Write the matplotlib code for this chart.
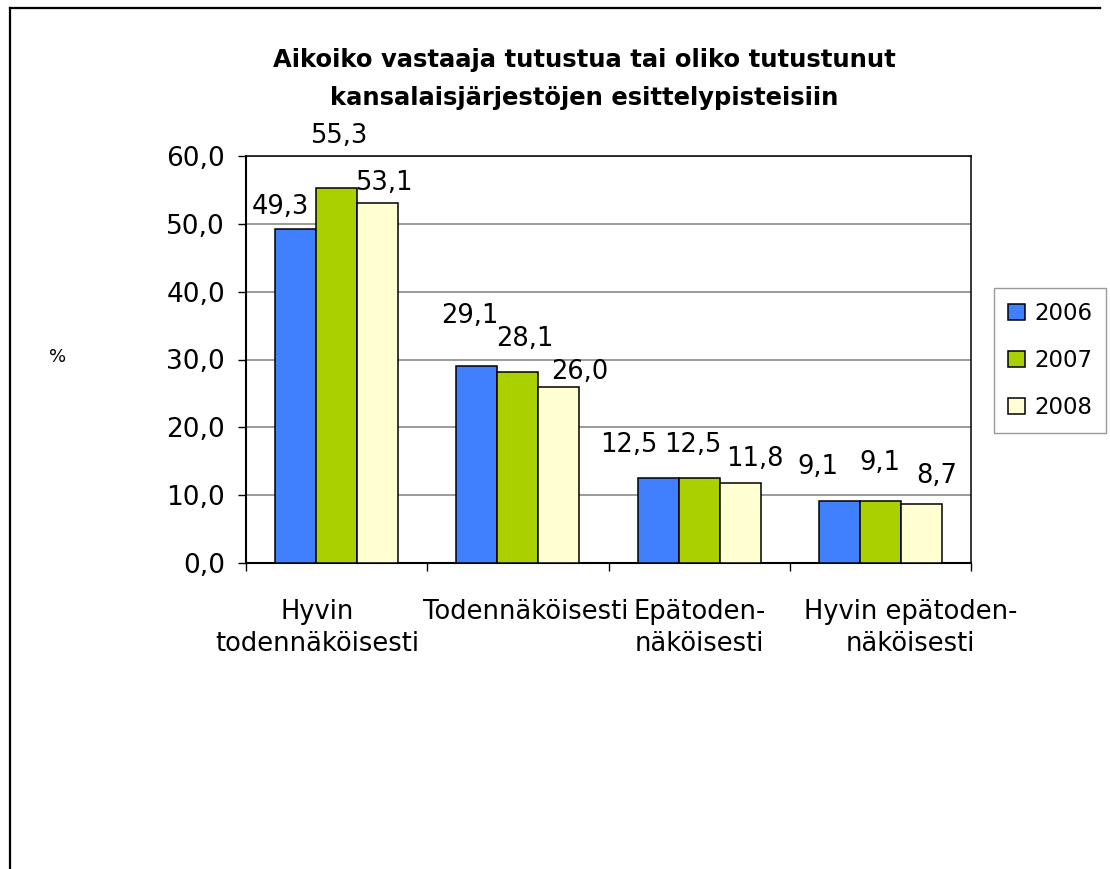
import matplotlib
matplotlib.use("Agg")
import matplotlib.pyplot as plt
import matplotlib.transforms as mtransforms
from matplotlib.lines import Line2D
import numpy as np

plt.rcParams['font.family'] = ['DejaVu Sans']

categories = ["Hyvin\ntodennäköisesti", "Todennäköisesti", "Epätoden-\nnäköisesti", "Hyvin epätoden-\nnäköisesti"]
years = ["2006", "2007", "2008"]
v2006 = [49.3, 29.1, 12.5, 9.1]
v2007 = [55.3, 28.1, 12.5, 9.1]
v2008 = [53.1, 26.0, 11.8, 8.7]
yticks = [0, 10, 20, 30, 40, 50, 60]
title_lines = ["Aikoiko vastaaja tutustua tai oliko tutustunut", "kansalaisjärjestöjen esittelypisteisiin"]

series = [v2006, v2007, v2008]
colors = ["#4080FF", "#AAD000", "#FFFFD2"]
# label offsets in pixels (dx, dy up) per series per category
offsets = [
    [(-15, 22), (-7, 50), (-29, 33), (-21, 34)],
    [(2, 52), (7, 33), (-6, 33), (0, 38)],
    [(6, 20), (21, 15), (15, 24), (15, 28)],
]
cat_label_dx = [-19, 8, 0, 30]

def fmt(v):
    return f"{v:.1f}".replace(".", ",")

fig = plt.figure(figsize=(11.1, 8.69), dpi=100)
ax = fig.add_axes([246/1110, 1-563/869, (971-246)/1110, (563-156)/869])

n = len(categories)
x = np.arange(n)
w = 0.2265
for s, (vals, col) in enumerate(zip(series, colors)):
    xs = x + (s - 1) * w
    ax.bar(xs, vals, width=w, color=col, edgecolor="black", linewidth=1.1,
           label=years[s], zorder=3)
    for i, v in enumerate(vals):
        dx, dy = offsets[s][i]
        ax.annotate(fmt(v), xy=(xs[i], v), xytext=(dx, dy), textcoords="offset pixels",
                    ha="center", va="center", fontsize=18.5, annotation_clip=False)

ax.set_xlim(-0.5, n - 0.5)
ax.set_ylim(0, 60)
ax.set_yticks(yticks)
ax.set_yticklabels([fmt(t) for t in yticks], fontsize=19)
ax.yaxis.grid(True, color="#808080", linewidth=1.1, zorder=0)
ax.set_axisbelow(True)
ax.tick_params(axis="y", length=6, width=1.0, pad=9, direction="out")

ax.set_xticks(np.arange(n + 1) - 0.5)
ax.set_xticklabels([])
ax.tick_params(axis="x", length=6, width=1.0, direction="out")

for i, lab in enumerate(categories):
    tr = ax.get_xaxis_transform() + mtransforms.ScaledTranslation(cat_label_dx[i] / 100, -36 / 100, fig.dpi_scale_trans)
    ax.text(i, 0, lab, transform=tr, ha="center", va="top", fontsize=18.5,
            linespacing=1.32, multialignment="center")

for sp in ["left", "bottom"]:
    ax.spines[sp].set_color("black")
    ax.spines[sp].set_linewidth(1.5)
for sp in ["top", "right"]:
    ax.spines[sp].set_color("black")
    ax.spines[sp].set_linewidth(1.1)

# title
fig.text(584/1110, 1-60/869, title_lines[0], ha="center", va="center", fontsize=17.5, fontweight="bold")
fig.text(584/1110, 1-98/869, title_lines[1], ha="center", va="center", fontsize=17.5, fontweight="bold")

# % label
fig.text(58/1110, 1-357/869, "%", ha="center", va="center", fontsize=13)

leg = fig.legend(loc="center", bbox_to_anchor=(1050/1110, 1-360.5/869), fontsize=16.5,
                 frameon=True, fancybox=False, shadow=False, handlelength=0.75,
                 handleheight=0.75, handletextpad=0.4, labelspacing=1.05, borderpad=0.6,
                 edgecolor="#808080")
leg.get_frame().set_linewidth(1.0)

# outer frame (top + left visible)
fig.add_artist(Line2D([10/1110, 1100/1110], [1-8/869, 1-8/869], transform=fig.transFigure, color="black", linewidth=1.6))
fig.add_artist(Line2D([10/1110, 10/1110], [1-8/869, 0], transform=fig.transFigure, color="black", linewidth=1.6))

fig.savefig("out.png", dpi=100, facecolor="white")
